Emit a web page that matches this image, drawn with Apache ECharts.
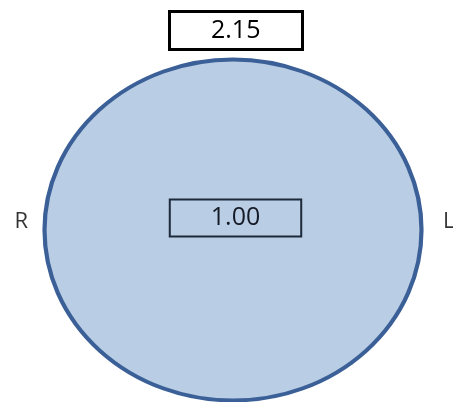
<!DOCTYPE html>
<html><head><meta charset="utf-8">
<script src="https://cdn.jsdelivr.net/npm/echarts@6/dist/echarts.min.js"></script>
<style>html,body{margin:0;padding:0;background:#fff}#c{width:453px;height:402px}</style>
</head><body><div id="c"></div>
<script>
const sides = ['R', 'L'];
const sideX = [-1, 1];
const centerValue = 1.00;
const topValue = 2.15;

const chart = echarts.init(document.getElementById('c'), null, {renderer: 'canvas'});
const font = '"Open Sans", "Liberation Sans", sans-serif';
chart.setOption({
  animation: false,
  title: {
    text: topValue.toFixed(2),
    left: 169, top: 11,
    padding: [5, 42],
    borderColor: '#000', borderWidth: 3,
    textStyle: {fontFamily: font, fontSize: 25, fontWeight: 'normal', color: '#000', lineHeight: 29}
  },
  grid: {left: 43, right: 30, top: 58, bottom: 0},
  xAxis: {type: 'value', min: -1, max: 1, show: false},
  yAxis: {type: 'value', min: -1, max: 1, show: false},
  series: [
    {
      type: 'scatter',
      data: [[0, 0, centerValue]],
      symbol: 'circle',
      symbolSize: [377, 341],
      itemStyle: {color: '#B9CDE5', borderColor: '#3B6097', borderWidth: 4, opacity: 1},
      label: {
        show: true, position: 'inside', offset: [2.5, -12],
        formatter: p => p.value[2].toFixed(2),
        fontFamily: font, fontSize: 25, color: '#141a26', lineHeight: 29,
        padding: [4, 41], borderColor: '#1e2a3a', borderWidth: 2
      },
      emphasis: {disabled: true}, silent: true
    },
    {
      type: 'scatter',
      data: sides.map((s, i) => ({value: [sideX[i], 0], name: s,
        label: {position: i === 0 ? 'left' : 'right', distance: i === 0 ? 15 : 20}})),
      symbolSize: 0,
      label: {show: true, formatter: p => p.name, fontFamily: font, fontSize: 22, color: '#000', offset: [0, -8]},
      emphasis: {disabled: true}, silent: true
    }
  ]
});
</script></body></html>
